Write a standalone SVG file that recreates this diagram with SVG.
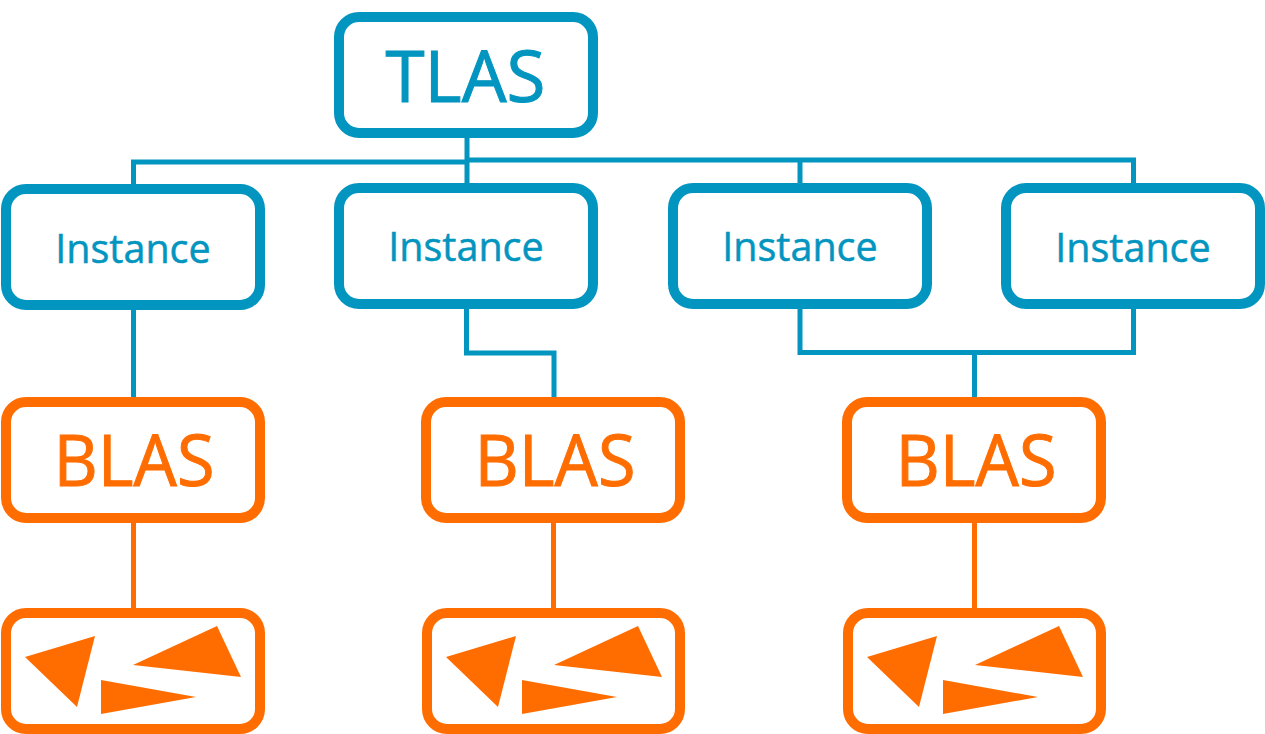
<svg xmlns="http://www.w3.org/2000/svg" width="1265" height="734" viewBox="0 0 1265 734">
<style>
.b{fill:#fff;stroke:#0295c0;stroke-width:10}
.o{fill:#fff;stroke:#ff6d00;stroke-width:10}
.cb{fill:none;stroke:#0295c0;stroke-width:5}
.co{fill:none;stroke:#ff6d00;stroke-width:5}
text{font-family:"Open Sans","Noto Sans","Liberation Sans",sans-serif;text-anchor:middle}
.tb{fill:#0295c0;stroke:#0295c0}.to{fill:#ff6d00;stroke:#ff6d00}
.big{font-size:71px;stroke-width:1}.mid{font-size:39.500px;stroke-width:.5}
.tri{fill:#ff6d00}
</style>
<rect width="1265" height="734" fill="#fff"/>
<g id="connectors">
<path class="cb" d="M467 136V184M133.500 186V162H467M467 160H800V186M800 160H1133.500V186"/>
<path class="cb" d="M133.500 308V400M466.500 305V353H554V400M800 305V352.500H1133.500V305M974.500 352.500V400"/>
<path class="co" d="M133.500 518V611M553.500 518V611M974.500 518V611"/>
</g>
<g id="tlas"><rect class="b" x="339" y="17" width="254" height="116" rx="20"/><text class="tb big" x="465.500" y="102">TLAS</text></g>
<g id="instance1"><rect class="b" x="6" y="189" width="254" height="116" rx="20"/><text class="tb mid" x="133" y="263">Instance</text></g>
<g id="instance2"><rect class="b" x="339" y="188" width="254" height="116" rx="20"/><text class="tb mid" x="466" y="261">Instance</text></g>
<g id="instance3"><rect class="b" x="673" y="188" width="254" height="116" rx="20"/><text class="tb mid" x="800" y="261">Instance</text></g>
<g id="instance4"><rect class="b" x="1006" y="188" width="254" height="116" rx="20"/><text class="tb mid" x="1133" y="262">Instance</text></g>
<g id="blas1"><rect class="o" x="6" y="402" width="254" height="116" rx="20"/><text class="to big" x="134" y="486" textLength="161" lengthAdjust="spacingAndGlyphs">BLAS</text></g>
<g id="blas2"><rect class="o" x="426" y="402" width="254" height="116" rx="20"/><text class="to big" x="555" y="486" textLength="161" lengthAdjust="spacingAndGlyphs">BLAS</text></g>
<g id="blas3"><rect class="o" x="847" y="402" width="254" height="116" rx="20"/><text class="to big" x="976" y="486" textLength="161" lengthAdjust="spacingAndGlyphs">BLAS</text></g>
<defs><g id="tris"><path class="tri" d="M25 657 95 636 77 707Z"/><path class="tri" d="M133 665 217 626 241 677Z"/><path class="tri" d="M101 680 196 697 101 714Z"/></g></defs>
<g id="geometry1"><rect class="o" x="6" y="613" width="254" height="116" rx="20"/><use href="#tris"/></g>
<g id="geometry2"><rect class="o" x="427" y="613" width="253" height="116" rx="20"/><use href="#tris" x="421"/></g>
<g id="geometry3"><rect class="o" x="848" y="613" width="253" height="116" rx="20"/><use href="#tris" x="842"/></g>
</svg>
